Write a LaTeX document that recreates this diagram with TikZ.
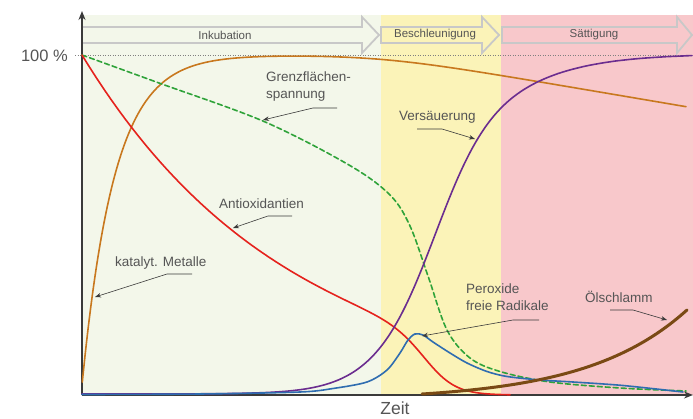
\documentclass[tikz,border=0pt]{standalone}
\usepackage{fontspec}
\setmainfont{Liberation Sans}
\usetikzlibrary{arrows.meta}
\definecolor{bgA}{HTML}{F3F7EA}
\definecolor{bgB}{HTML}{FBF3B8}
\definecolor{bgC}{HTML}{F8C8CB}
\definecolor{phase}{HTML}{C8C8C8}
\definecolor{axisc}{HTML}{3A3A3A}
\definecolor{txt}{HTML}{555555}
\definecolor{corange}{HTML}{C8781E}
\definecolor{cred}{HTML}{E5221D}
\definecolor{cgreen}{HTML}{2FA33A}
\definecolor{cpurple}{HTML}{6B2D8F}
\definecolor{cblue}{HTML}{2F6DB0}
\definecolor{cbrown}{HTML}{7A4A14}
\tikzset{
  declare function={lgs(\t)=1/(1+exp(-max(-9,min(9,\t))));},
  phasearrow/.style={draw=phase, line width=1.8pt, line join=miter},
  phaselabel/.style={font=\fontsize{11.5}{13}\selectfont, text=txt, inner sep=0pt},
  lbl/.style={font=\fontsize{13.5}{16.5}\selectfont, text=txt, inner sep=0pt, align=left, anchor=base west},
  curve/.style={line width=1.6pt, line cap=round},
  pointer/.style={draw=axisc, line width=0.6pt, -{Stealth[length=6pt,width=4.5pt]}},
  axisline/.style={draw=axisc, line width=1.8pt, -{Stealth[length=9pt,width=7pt]}}
}
\begin{document}
\begin{tikzpicture}[x=1pt,y=-1pt]
\useasboundingbox (0,0) rectangle (693,419);
% backgrounds
\fill[bgA] (82,15) rectangle (381,395);
\fill[bgB] (381,15) rectangle (501,395);
\fill[bgC] (501,15) rectangle (693,395);
% 100% line
\draw[gray, line width=0.5pt, dotted] (75,55) -- (692,55);
\node[font=\fontsize{16.5}{19}\selectfont, text=txt, anchor=base east, inner sep=0pt] (hundert) at (68,62) {100 \%};
% phase arrows
\draw[phasearrow] (82,27) -- (362,27) -- (362,17) -- (379,35) -- (362,53) -- (362,43) -- (82,43) -- cycle;
\draw[phasearrow] (381,27) -- (482,27) -- (482,17) -- (499,35) -- (482,53) -- (482,43) -- (381,43) -- cycle;
\draw[phasearrow] (502,27) -- (677,27) -- (677,17) -- (692,35) -- (677,53) -- (677,43) -- (502,43) -- cycle;
\node[phaselabel] (inkub) at (225,35) {Inkubation};
\node[phaselabel] (beschl) at (435,35) {Beschleunigung};
\node[phaselabel] (saett) at (594,35) {Sättigung};
% axes
\coordinate (origin) at (82,395);
\coordinate (ytop) at (82,11);
\coordinate (xend) at (693,395);
\draw[axisline] (origin) -- (ytop);
\draw[axisline] (origin) -- (xend);
\node[font=\fontsize{17.5}{20}\selectfont, text=txt, anchor=base, inner sep=0pt] (zeit) at (395,414) {Zeit};
% curves
\draw[curve, corange] plot[domain=82.3:686, samples=220, smooth] (\x, {55 + 330*exp(max(-12,-(\x-82)/32.5)) + 6.46*ln(1+exp(min(9,(\x-382)/38)))});
\draw[curve, cgreen, dashed, dash pattern=on 5pt off 3pt] plot[smooth, tension=0.55] coordinates {(82,55) (159,83) (264,121.5) (349,165) (390,195) (410,226) (428,276) (447,330) (470,358) (500,371.5) (550,382) (620,388) (686,391)};
\draw[curve, cred] plot[domain=82:510, samples=180, smooth] (\x, {395 - 340*exp(-(\x-82)/207)*(1-lgs((\x-429)/15.7))});
\draw[curve, cpurple] plot[domain=82:692, samples=220, smooth] (\x, {394 - 340*(0.80*lgs((\x-435)/28) + 0.05*lgs((\x-370)/30) + 0.15*lgs((\x-520)/50))});
\draw[curve, cblue] plot[smooth, tension=0.5] coordinates {(82,394.5) (200,394) (300,392) (333,388.5) (367,382) (387,370) (400,353) (408,340) (415,334) (423,335) (433,342) (450,353) (467,363) (487,371.5) (507,376.5) (540,380) (573,382) (623,385.5) (683,392)};
\draw[line width=3pt, cbrown, line cap=round] plot[domain=422:687, samples=80, smooth] (\x, {394 - 6.39*(exp((\x-422)/100)-1)});
% labels and pointers
\node[lbl] (grenz) at (266,98.5) {Grenzflächen-\\spannung};
\node[lbl] (antiox) at (219,209) {Antioxidantien};
\node[lbl] (metalle) at (115,267) {katalyt. Metalle};
\node[lbl] (versaeu) at (399,121) {Versäuerung};
\node[lbl] (perox) at (466,310.5) {Peroxide\\freie Radikale};
\node[lbl] (oelschl) at (585,303) {Ölschlamm};
\coordinate (g1) at (337,108); \coordinate (g2) at (313,108); \coordinate (g3) at (263,120);
\coordinate (a1) at (292,216); \coordinate (a2) at (268,216); \coordinate (a3) at (233,228);
\coordinate (m1) at (192,274); \coordinate (m2) at (167,274); \coordinate (m3) at (95,297);
\coordinate (v1) at (417,129); \coordinate (v2) at (442,129); \coordinate (v3) at (475,139);
\coordinate (p1) at (539,320); \coordinate (p2) at (513,320); \coordinate (p3) at (422,336);
\coordinate (o1) at (610,310); \coordinate (o2) at (633,310); \coordinate (o3) at (667,320);
\draw[pointer] (g1) -- (g2) -- (g3);
\draw[pointer] (a1) -- (a2) -- (a3);
\draw[pointer] (m1) -- (m2) -- (m3);
\draw[pointer] (v1) -- (v2) -- (v3);
\draw[pointer] (p1) -- (p2) -- (p3);
\draw[pointer] (o1) -- (o2) -- (o3);
\end{tikzpicture}
\end{document}
